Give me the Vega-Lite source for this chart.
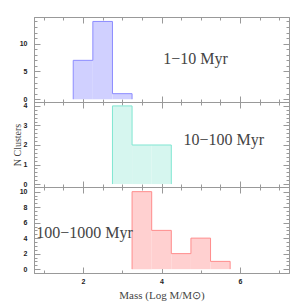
{
  "$schema": "https://vega.github.io/schema/vega-lite/v6.json",
  "padding": {"left": 11, "top": 16, "right": 17, "bottom": 5},
  "spacing": 0,
  "bounds": "flush",
  "datasets": {
    "young": [
      {"x0": 1.75, "x1": 2.25, "n": 7},
      {"x0": 2.25, "x1": 2.75, "n": 14},
      {"x0": 2.75, "x1": 3.25, "n": 1}
    ],
    "youngEdge": [
      {"i": 0, "x": 1.75, "n": 0}, {"i": 1, "x": 1.75, "n": 7}, {"i": 2, "x": 2.25, "n": 14},
      {"i": 3, "x": 2.75, "n": 1}, {"i": 4, "x": 3.25, "n": 0}
    ],
    "mid": [
      {"x0": 2.75, "x1": 3.25, "n": 4},
      {"x0": 3.25, "x1": 3.75, "n": 2},
      {"x0": 3.75, "x1": 4.25, "n": 2}
    ],
    "midEdge": [
      {"i": 0, "x": 2.75, "n": 0}, {"i": 1, "x": 2.75, "n": 4}, {"i": 2, "x": 3.25, "n": 2},
      {"i": 3, "x": 4.25, "n": 0}
    ],
    "old": [
      {"x0": 3.25, "x1": 3.75, "n": 10},
      {"x0": 3.75, "x1": 4.25, "n": 5},
      {"x0": 4.25, "x1": 4.75, "n": 2},
      {"x0": 4.75, "x1": 5.25, "n": 4},
      {"x0": 5.25, "x1": 5.75, "n": 1}
    ],
    "oldEdge": [
      {"i": 0, "x": 3.25, "n": 0}, {"i": 1, "x": 3.25, "n": 10}, {"i": 2, "x": 3.75, "n": 5},
      {"i": 3, "x": 4.25, "n": 2}, {"i": 4, "x": 4.75, "n": 4}, {"i": 5, "x": 5.25, "n": 1},
      {"i": 6, "x": 5.75, "n": 0}
    ]
  },
  "vconcat": [
    {
      "width": 255, "height": 85,
      "layer": [
        {
          "data": {"name": "young"},
          "mark": {"type": "rect", "fill": "#d0d0ff"},
          "encoding": {
            "x": {"field": "x0", "type": "quantitative", "scale": {"domain": [0.75, 7.25], "nice": false, "zero": false},
              "axis": {"orient": "bottom", "title": null, "values": [1,1.5,2,2.5,3,3.5,4,4.5,5,5.5,6,6.5,7], "labels": false,
                "tickSize": {"condition": {"test": "datum.value % 2 === 0", "value": -6}, "value": -3}}},
            "x2": {"field": "x1"},
            "y": {"field": "n", "type": "quantitative", "scale": {"domain": [-0.5, 14.8], "nice": false, "zero": false},
              "axis": {"orient": "left", "title": null, "values": [0,1,2,3,4,5,6,7,8,9,10,11,12,13,14], "labelPadding": 13, "labelOverlap": false,
                "labelExpr": "datum.value % 5 === 0 ? '' + datum.value : ''",
                "tickSize": {"condition": {"test": "datum.value % 5 === 0", "value": -6}, "value": -3}}},
            "y2": {"datum": 0}
          }
        },
        {
          "mark": {"type": "rule", "color": "#d2d2ff", "strokeWidth": 2},
          "encoding": {"y": {"datum": 0, "type": "quantitative", "axis": null}}
        },
        {
          "data": {"name": "youngEdge"},
          "mark": {"type": "line", "interpolate": "step-after", "color": "#8c8cff", "strokeWidth": 1},
          "encoding": {
            "x": {"field": "x", "type": "quantitative", "axis": null},
            "y": {"field": "n", "type": "quantitative", "axis": null},
            "order": {"field": "i"}
          }
        },
        {
          "data": {"values": [{"x": 4.87, "y": 7.2, "t": "1−10 Myr"}]},
          "mark": {"type": "text", "font": "Liberation Serif", "fontSize": 16, "color": "#444"},
          "encoding": {
            "x": {"field": "x", "type": "quantitative",
              "axis": {"orient": "top", "title": null, "values": [1,1.5,2,2.5,3,3.5,4,4.5,5,5.5,6,6.5,7], "labels": false,
                "tickSize": {"condition": {"test": "datum.value % 2 === 0", "value": -6}, "value": -3}}},
            "y": {"field": "y", "type": "quantitative",
              "axis": {"orient": "right", "title": null, "values": [0,1,2,3,4,5,6,7,8,9,10,11,12,13,14], "labels": false,
                "tickSize": {"condition": {"test": "datum.value % 5 === 0", "value": -6}, "value": -3}}},
            "text": {"field": "t"}
          }
        }
      ],
      "resolve": {"axis": {"x": "independent", "y": "independent"}}
    },
    {
      "width": 255, "height": 85,
      "layer": [
        {
          "data": {"name": "mid"},
          "mark": {"type": "rect", "fill": "#d6f6ef"},
          "encoding": {
            "x": {"field": "x0", "type": "quantitative", "scale": {"domain": [0.75, 7.25], "nice": false, "zero": false},
              "axis": {"orient": "bottom", "title": null, "values": [1,1.5,2,2.5,3,3.5,4,4.5,5,5.5,6,6.5,7], "labels": false,
                "tickSize": {"condition": {"test": "datum.value % 2 === 0", "value": -6}, "value": -3}}},
            "x2": {"field": "x1"},
            "y": {"field": "n", "type": "quantitative", "scale": {"domain": [-0.15, 4.2], "nice": false, "zero": false},
              "axis": {"orient": "left", "title": "N Clusters", "titleFont": "Liberation Serif", "titleFontSize": 10, "titlePadding": 1,
                "values": [0,0.2,0.4,0.6,0.8,1,1.2,1.4,1.6,1.8,2,2.2,2.4,2.6,2.8,3,3.2,3.4,3.6,3.8,4], "labelPadding": 13, "labelOverlap": false,
                "labelExpr": "abs(datum.value - round(datum.value)) < 0.001 ? '' + round(datum.value) : ''",
                "tickSize": {"condition": {"test": "abs(datum.value - round(datum.value)) < 0.001", "value": -6}, "value": -3}}},
            "y2": {"datum": 0}
          }
        },
        {
          "mark": {"type": "rule", "color": "#c8f2ea", "strokeWidth": 2},
          "encoding": {"y": {"datum": 0, "type": "quantitative", "axis": null}}
        },
        {
          "data": {"name": "midEdge"},
          "mark": {"type": "line", "interpolate": "step-after", "color": "#80e6d2", "strokeWidth": 1},
          "encoding": {
            "x": {"field": "x", "type": "quantitative", "axis": null},
            "y": {"field": "n", "type": "quantitative", "axis": null},
            "order": {"field": "i"}
          }
        },
        {
          "data": {"values": [{"x": 5.59, "y": 2.25, "t": "10−100 Myr"}]},
          "mark": {"type": "text", "font": "Liberation Serif", "fontSize": 16, "color": "#444"},
          "encoding": {
            "x": {"field": "x", "type": "quantitative",
              "axis": {"orient": "top", "title": null, "values": [1,1.5,2,2.5,3,3.5,4,4.5,5,5.5,6,6.5,7], "labels": false,
                "tickSize": {"condition": {"test": "datum.value % 2 === 0", "value": -6}, "value": -3}}},
            "y": {"field": "y", "type": "quantitative",
              "axis": {"orient": "right", "title": null, "labels": false,
                "values": [0,0.2,0.4,0.6,0.8,1,1.2,1.4,1.6,1.8,2,2.2,2.4,2.6,2.8,3,3.2,3.4,3.6,3.8,4],
                "tickSize": {"condition": {"test": "abs(datum.value - round(datum.value)) < 0.001", "value": -6}, "value": -3}}},
            "text": {"field": "t"}
          }
        }
      ],
      "resolve": {"axis": {"x": "independent", "y": "independent"}}
    },
    {
      "width": 255, "height": 86,
      "layer": [
        {
          "data": {"name": "old"},
          "mark": {"type": "rect", "fill": "#ffd0d0"},
          "encoding": {
            "x": {"field": "x0", "type": "quantitative", "scale": {"domain": [0.75, 7.25], "nice": false, "zero": false},
              "axis": {"orient": "bottom", "title": "Mass (Log M/M⊙)", "titleFont": "Liberation Serif", "titleFontSize": 11, "titlePadding": 5,
                "values": [1,1.5,2,2.5,3,3.5,4,4.5,5,5.5,6,6.5,7], "format": "d",
                "labelExpr": "datum.value % 2 === 0 ? datum.label : ''", "labelPadding": 10,
                "tickSize": {"condition": {"test": "datum.value % 2 === 0", "value": -6}, "value": -3}}},
            "x2": {"field": "x1"},
            "y": {"field": "n", "type": "quantitative", "scale": {"domain": [-0.5, 10.6], "nice": false, "zero": false},
              "axis": {"orient": "left", "title": null, "labelPadding": 13, "labelOverlap": false,
                "values": [0,0.5,1,1.5,2,2.5,3,3.5,4,4.5,5,5.5,6,6.5,7,7.5,8,8.5,9,9.5,10],
                "labelExpr": "datum.value % 2 === 0 ? '' + datum.value : ''",
                "tickSize": {"condition": {"test": "datum.value % 2 === 0", "value": -6}, "value": -3}}},
            "y2": {"datum": 0}
          }
        },
        {
          "mark": {"type": "rule", "color": "#ffcccc", "strokeWidth": 2},
          "encoding": {"y": {"datum": 0, "type": "quantitative", "axis": null}}
        },
        {
          "data": {"name": "oldEdge"},
          "mark": {"type": "line", "interpolate": "step-after", "color": "#ff8c8c", "strokeWidth": 1},
          "encoding": {
            "x": {"field": "x", "type": "quantitative", "axis": null},
            "y": {"field": "n", "type": "quantitative", "axis": null},
            "order": {"field": "i"}
          }
        },
        {
          "data": {"values": [{"x": 2.04, "y": 4.7, "t": "100−1000 Myr"}]},
          "mark": {"type": "text", "font": "Liberation Serif", "fontSize": 16, "color": "#444"},
          "encoding": {
            "x": {"field": "x", "type": "quantitative",
              "axis": {"orient": "top", "title": null, "values": [1,1.5,2,2.5,3,3.5,4,4.5,5,5.5,6,6.5,7], "labels": false,
                "tickSize": {"condition": {"test": "datum.value % 2 === 0", "value": -6}, "value": -3}}},
            "y": {"field": "y", "type": "quantitative",
              "axis": {"orient": "right", "title": null, "labels": false,
                "values": [0,0.5,1,1.5,2,2.5,3,3.5,4,4.5,5,5.5,6,6.5,7,7.5,8,8.5,9,9.5,10],
                "tickSize": {"condition": {"test": "datum.value % 2 === 0", "value": -6}, "value": -3}}},
            "text": {"field": "t"}
          }
        }
      ],
      "resolve": {"axis": {"x": "independent", "y": "independent"}}
    }
  ],
  "config": {
    "view": {"stroke": "#999"},
    "axis": {
      "grid": false, "domainColor": "#999", "tickColor": "#999",
      "labelFont": "Liberation Sans", "labelFontSize": 7, "labelFontWeight": "bold", "labelColor": "#222",
      "titleFontWeight": "normal", "titleColor": "#444"
    }
  }
}
